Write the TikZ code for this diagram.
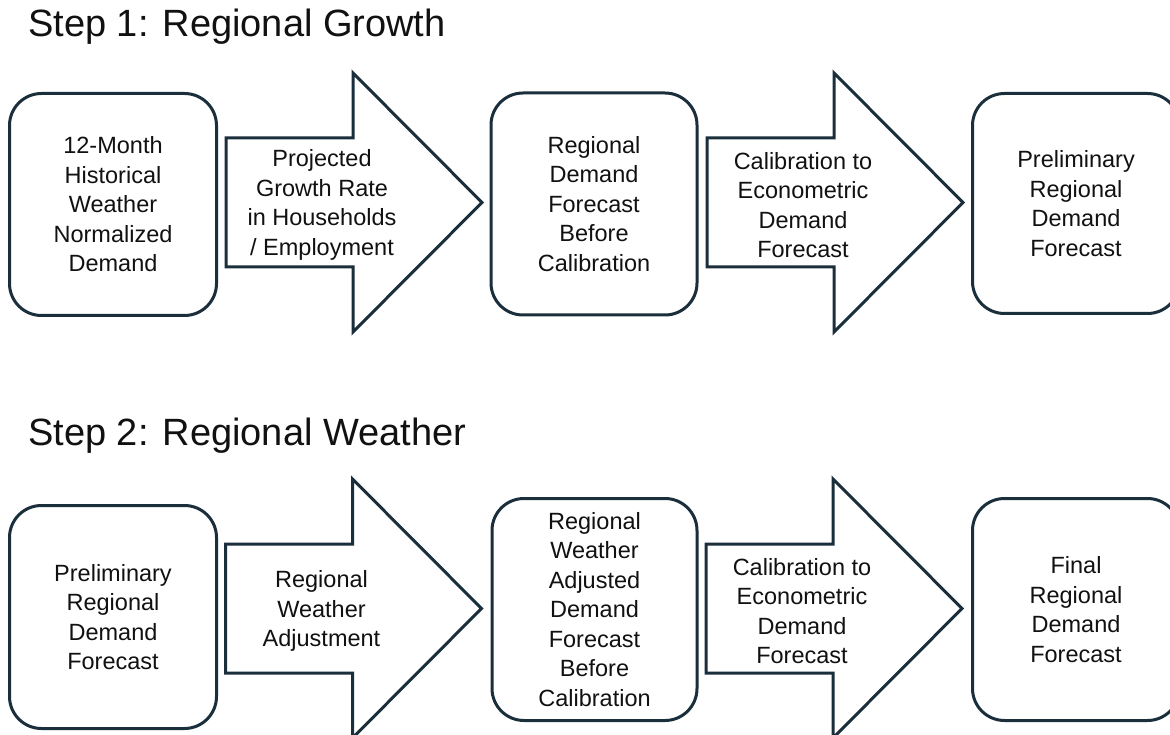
\documentclass[tikz,border=0pt]{standalone}
\usepackage{fontspec}
\setmainfont{Liberation Sans}
\definecolor{edge}{HTML}{1B2E3C}
\definecolor{ink}{HTML}{111111}
\newcommand\boxfont{\fontsize{23.5}{29.5}\selectfont}
\newcommand\headfont{\fontsize{38}{42}\selectfont}
\tikzset{
  stage/.style={draw=edge, line width=3pt, rounded corners=32pt, fill=white,
    align=center, font=\boxfont, text=ink, inner sep=0pt},
  bigarrow/.style={draw=edge, line width=3pt, line join=miter, fill=white},
  arrowtext/.style={align=center, font=\boxfont, text=ink, inner sep=0pt, yshift=-2.5pt},
  steptitle/.style={anchor=base west, font=\headfont, text=ink, inner sep=0pt}
}
% block arrow: #1 = left end of shaft, #2 = vertical centre, #3 = name of its label point
\newcommand\blockarrow[3]{%
  \draw[bigarrow] (#1,#2-64.5) -- (#1+127,#2-64.5) -- (#1+127,#2-129.5)
    -- (#1+256,#2) -- (#1+127,#2+129.5) -- (#1+127,#2+64.5)
    -- (#1,#2+64.5) -- cycle;
  \coordinate (#3) at (#1+96,#2);}
\begin{document}
\begin{tikzpicture}[x=1pt, y=-1pt]
\path[use as bounding box] (0,0) rectangle (1170,735);
\begin{scope}
\clip (0,0) rectangle (1170,735);

% ---------- Step 1 ----------
\node[steptitle] (t1) at (28,37) {Step 1: Regional Growth};

\node[stage, minimum width=207pt, minimum height=222pt] (b11) at (113,204.5)
  {12-Month\\Historical\\Weather\\Normalized\\Demand};
\blockarrow{226}{202.5}{a11}
\node[arrowtext] (l11) at (a11) {Projected\\Growth Rate\\in Households\\/ Employment};
\node[stage, minimum width=206pt, minimum height=222pt] (b12) at (594,204)
  {Regional\\Demand\\Forecast\\Before\\Calibration};
\blockarrow{707}{202.5}{a12}
\node[arrowtext] (l12) at (a12) {Calibration to\\Econometric\\Demand\\Forecast};
\node[stage, minimum width=207pt, minimum height=220pt] (b13) at (1076,203.5)
  {Preliminary\\Regional\\Demand\\Forecast};

% ---------- Step 2 ----------
\node[steptitle] (t2) at (28,445) {Step 2: Regional Weather};

\node[stage, minimum width=207pt, minimum height=223pt] (b21) at (113,617)
  {Preliminary\\Regional\\Demand\\Forecast};
\blockarrow{225.5}{608.5}{a21}
\node[arrowtext] (l21) at (a21) {Regional\\Weather\\Adjustment};
\node[stage, minimum width=205pt, minimum height=222pt] (b22) at (594.5,609.5)
  {Regional\\Weather\\Adjusted\\Demand\\Forecast\\Before\\Calibration};
\blockarrow{706}{608.5}{a22}
\node[arrowtext] (l22) at (a22) {Calibration to\\Econometric\\Demand\\Forecast};
\node[stage, minimum width=207pt, minimum height=222pt] (b23) at (1076,609.5)
  {Final\\Regional\\Demand\\Forecast};
\end{scope}
\end{tikzpicture}
\end{document}
